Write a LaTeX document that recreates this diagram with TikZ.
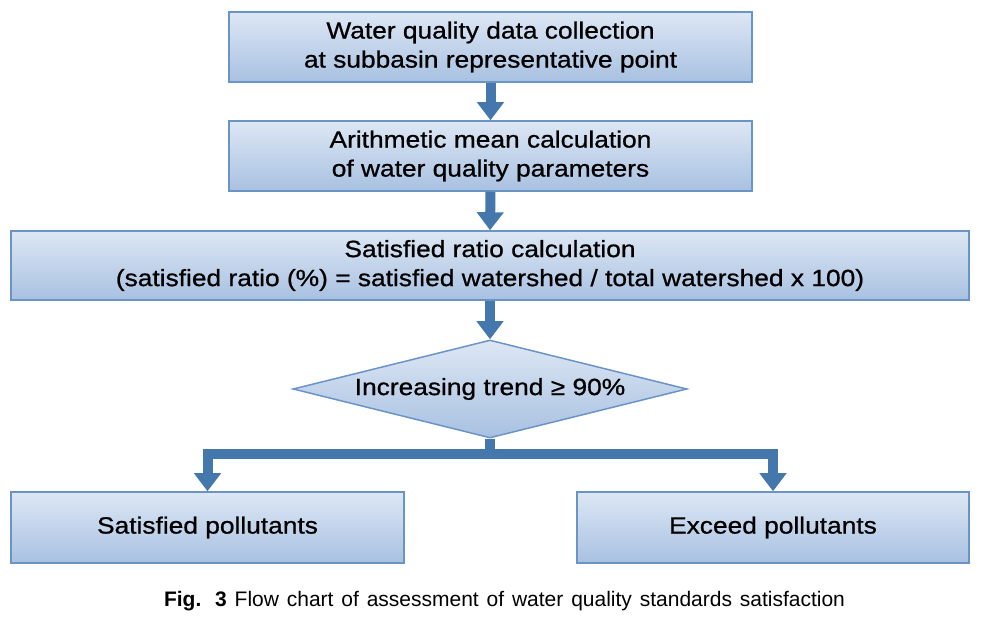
\documentclass[tikz,border=0pt]{standalone}
\usepackage{fontspec}
\setmainfont{Liberation Sans}
\newfontfamily\boxfont[FakeStretch=1.12,FakeBold=0.8]{Liberation Sans}
\newfontfamily\capfont{Liberation Sans}
\usetikzlibrary{arrows.meta,shapes.geometric}
\definecolor{boxtop}{HTML}{DDE7F4}
\definecolor{boxbot}{HTML}{A8C1E1}
\definecolor{boxline}{HTML}{6A94C6}
\definecolor{flowc}{HTML}{4478AC}
\tikzset{
  stepbox/.style={draw=boxline, line width=1.5pt, top color=boxtop, bottom color=boxbot,
    inner sep=0pt, align=center, font=\boxfont\fontsize{23.5}{29}\selectfont},
  decbox/.style={diamond, draw=boxline, line width=1.5pt, top color=boxtop, bottom color=boxbot,
    inner sep=0pt, minimum width=394pt, minimum height=98pt},
  flow/.style={draw=flowc, line width=10pt, line join=miter,
    -{Triangle[width=26pt,length=18pt]}}
}
\begin{document}
\begin{tikzpicture}[x=1pt,y=-1pt]
\useasboundingbox (0,0) rectangle (989,617);
\node[stepbox, minimum width=523pt, minimum height=70pt] (b1) at (490.5,47)
  {Water quality data collection\\at subbasin representative point};
\node[stepbox, minimum width=523pt, minimum height=70pt] (b2) at (490.5,156)
  {Arithmetic mean calculation\\of water quality parameters};
\node[stepbox, minimum width=958pt, minimum height=69pt] (b3) at (490,265.5)
  {Satisfied ratio calculation\\(satisfied ratio (\%) = satisfied watershed / total watershed x 100)};
\node[decbox] (dia) at (490,389) {};
\node[font=\boxfont\fontsize{23.5}{29}\selectfont] (diatext) at (dia.center) {Increasing trend ≥ 90\%};
\node[stepbox, minimum width=393pt, minimum height=71pt] (sat) at (207.5,527.5) {Satisfied pollutants};
\node[stepbox, minimum width=392pt, minimum height=71pt] (exc) at (773,527.5) {Exceed pollutants};
\draw[flow] (b1.south) -- (b2.north);
\draw[flow] (b2.south) -- (b3.north);
\draw[flow] (b3.south) -- (dia.north);
\coordinate (junc) at ([yshift=-15pt]dia.south);
\draw[draw=flowc, line width=10pt] (dia.south) -- (junc);
\draw[flow] (junc) -| (sat.north);
\draw[flow] (junc) -| (exc.north);
\node[font=\capfont\fontsize{21}{26}\selectfont, anchor=base, inner sep=0pt] (cap) at (504.5,607)
  {\makebox[681pt][s]{\textbf{Fig. 3} Flow chart of assessment of water quality standards satisfaction}};
\end{tikzpicture}
\end{document}
